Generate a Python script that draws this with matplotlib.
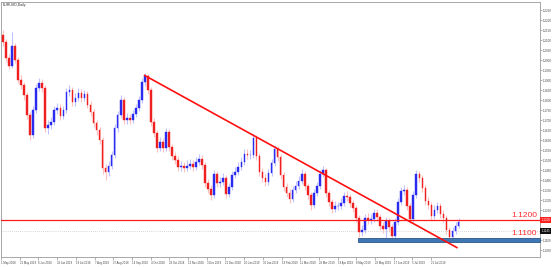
import matplotlib
matplotlib.use('Agg')
import matplotlib.pyplot as plt
import numpy as np

# daily EURUSD candles (open of each bar = previous close)
first_open = 1.2125
closes = [1.2090, 1.2010, 1.1970, 1.2070, 1.2000, 1.1900, 1.1875, 1.1825, 1.1725, 1.1625,
          1.1750, 1.1860, 1.1885, 1.1860, 1.1660, 1.1675, 1.1690, 1.1750, 1.1760, 1.1720,
          1.1750, 1.1840, 1.1850, 1.1790, 1.1810, 1.1835, 1.1810, 1.1830, 1.1775, 1.1740,
          1.1685, 1.1650, 1.1600, 1.1460, 1.1440, 1.1470, 1.1525, 1.1660, 1.1725, 1.1800,
          1.1700, 1.1710, 1.1700, 1.1730, 1.1760, 1.1800, 1.1890, 1.1920, 1.1850, 1.1690,
          1.1635, 1.1560, 1.1590, 1.1560, 1.1640, 1.1565, 1.1520, 1.1500, 1.1465, 1.1470,
          1.1460, 1.1470, 1.1480, 1.1465, 1.1490, 1.1505, 1.1475, 1.1385, 1.1355, 1.1325,
          1.1430, 1.1385, 1.1390, 1.1410, 1.1330, 1.1365, 1.1425, 1.1440, 1.1465, 1.1490,
          1.1530, 1.1525, 1.1525, 1.1610, 1.1520, 1.1440, 1.1410, 1.1390, 1.1435, 1.1485,
          1.1555, 1.1515, 1.1425, 1.1365, 1.1335, 1.1305, 1.1350, 1.1370, 1.1395, 1.1430,
          1.1370, 1.1325, 1.1275, 1.1335, 1.1370, 1.1430, 1.1450, 1.1335, 1.1290, 1.1255,
          1.1270, 1.1270, 1.1285, 1.1320, 1.1315, 1.1285, 1.1260, 1.1210, 1.1140, 1.1150,
          1.1210, 1.1200, 1.1205, 1.1235, 1.1215, 1.1170, 1.1155, 1.1195, 1.1165, 1.1120,
          1.1190, 1.1290, 1.1345, 1.1350, 1.1270, 1.1205, 1.1325, 1.1430, 1.1410, 1.1360,
          1.1295, 1.1275, 1.1220, 1.1250, 1.1270, 1.1230, 1.1210, 1.1150, 1.1115, 1.1145,
          1.1170, 1.1190]
highs = [1.2150, 1.2105, 1.2030, 1.2140, 1.2085, 1.2015, 1.1925, 1.1890, 1.1840, 1.1740,
         1.1770, 1.1880, 1.1910, 1.1905, 1.1875, 1.1700, 1.1715, 1.1770, 1.1785, 1.1780,
         1.1770, 1.1860, 1.1875, 1.1865, 1.1835, 1.1860, 1.1855, 1.1850, 1.1845, 1.1795,
         1.1755, 1.1700, 1.1665, 1.1615, 1.1480, 1.1495, 1.1545, 1.1680, 1.1745, 1.1825,
         1.1815, 1.1735, 1.1730, 1.1750, 1.1780, 1.1820, 1.1910, 1.1935, 1.1930, 1.1865,
         1.1710, 1.1650, 1.1615, 1.1610, 1.1660, 1.1655, 1.1580, 1.1540, 1.1520, 1.1495,
         1.1490, 1.1500, 1.1505, 1.1500, 1.1515, 1.1530, 1.1525, 1.1490, 1.1405, 1.1375,
         1.1450, 1.1445, 1.1415, 1.1435, 1.1425, 1.1385, 1.1445, 1.1465, 1.1490, 1.1515,
         1.1555, 1.1555, 1.1550, 1.1630, 1.1625, 1.1535, 1.1460, 1.1430, 1.1455, 1.1505,
         1.1575, 1.1570, 1.1530, 1.1440, 1.1385, 1.1355, 1.1370, 1.1395, 1.1420, 1.1455,
         1.1445, 1.1385, 1.1340, 1.1355, 1.1390, 1.1450, 1.1470, 1.1460, 1.1350, 1.1305,
         1.1295, 1.1290, 1.1310, 1.1340, 1.1345, 1.1330, 1.1300, 1.1275, 1.1225, 1.1175,
         1.1230, 1.1235, 1.1230, 1.1255, 1.1255, 1.1230, 1.1190, 1.1215, 1.1210, 1.1180,
         1.1210, 1.1310, 1.1365, 1.1375, 1.1365, 1.1285, 1.1345, 1.1450, 1.1445, 1.1425,
         1.1375, 1.1315, 1.1290, 1.1275, 1.1290, 1.1285, 1.1250, 1.1225, 1.1165, 1.1165,
         1.1190, 1.1210]
lows = [1.2070, 1.1990, 1.1955, 1.1960, 1.1985, 1.1885, 1.1855, 1.1800, 1.1705, 1.1600,
        1.1610, 1.1735, 1.1845, 1.1840, 1.1640, 1.1630, 1.1655, 1.1675, 1.1730, 1.1700,
        1.1705, 1.1735, 1.1820, 1.1770, 1.1770, 1.1795, 1.1790, 1.1795, 1.1760, 1.1720,
        1.1665, 1.1625, 1.1580, 1.1430, 1.1400, 1.1420, 1.1455, 1.1510, 1.1640, 1.1710,
        1.1680, 1.1680, 1.1680, 1.1685, 1.1715, 1.1745, 1.1785, 1.1870, 1.1830, 1.1670,
        1.1615, 1.1540, 1.1545, 1.1540, 1.1545, 1.1545, 1.1500, 1.1480, 1.1445, 1.1445,
        1.1440, 1.1445, 1.1455, 1.1445, 1.1450, 1.1475, 1.1455, 1.1365, 1.1335, 1.1300,
        1.1310, 1.1365, 1.1365, 1.1375, 1.1310, 1.1315, 1.1350, 1.1410, 1.1425, 1.1450,
        1.1475, 1.1505, 1.1505, 1.1510, 1.1500, 1.1420, 1.1390, 1.1370, 1.1375, 1.1420,
        1.1470, 1.1495, 1.1405, 1.1345, 1.1315, 1.1285, 1.1290, 1.1335, 1.1355, 1.1380,
        1.1350, 1.1305, 1.1250, 1.1260, 1.1320, 1.1355, 1.1415, 1.1315, 1.1270, 1.1235,
        1.1240, 1.1250, 1.1255, 1.1270, 1.1295, 1.1265, 1.1240, 1.1190, 1.1115, 1.1120,
        1.1135, 1.1180, 1.1180, 1.1190, 1.1195, 1.1150, 1.1135, 1.1110, 1.1145, 1.1105,
        1.1105, 1.1175, 1.1275, 1.1325, 1.1250, 1.1185, 1.1190, 1.1310, 1.1390, 1.1340,
        1.1275, 1.1255, 1.1200, 1.1205, 1.1235, 1.1210, 1.1190, 1.1130, 1.1100, 1.1105,
        1.1130, 1.1160]

date_labels = ['1 May 2018', '21 May 2018', '8 Jun 2018', '28 Jun 2018', '18 Jul 2018',
               '7 Aug 2018', '27 Aug 2018', '14 Sep 2018', '4 Oct 2018', '24 Oct 2018',
               '13 Nov 2018', '3 Dec 2018', '21 Dec 2018', '10 Jan 2019', '30 Jan 2019',
               '19 Feb 2019', '11 Mar 2019', '29 Mar 2019', '18 Apr 2019', '8 May 2019',
               '28 May 2019', '17 Jun 2019', '5 Jul 2019', '25 Jul 2019']
price_ticks = [1.1050, 1.1100, 1.1250, 1.1300, 1.1350, 1.1400, 1.1450, 1.1500,
               1.1550, 1.1600, 1.1650, 1.1700, 1.1750, 1.1800, 1.1850, 1.1900, 1.1950,
               1.2000, 1.2050, 1.2100, 1.2150, 1.2200, 1.2250]

# levels drawn on the chart
resistance = 1.1200
support_zone = (1.1090, 1.1110)
bid_price = 1.1145
trend_from = (46.7, 1.1925)
trend_to = (150.7, 1.1060)

UP = '#2a2af0'
DOWN = '#f02020'
SMALL = ['Liberation Sans', 'DejaVu Sans']

o = np.array([first_open] + closes[:-1])
c = np.array(closes)
h = np.array(highs)
l = np.array(lows)
x = np.arange(len(c))
up = c >= o

fig = plt.figure(figsize=(5.53, 2.67), dpi=100)
ax = fig.add_axes([1 / 553, 10 / 267, 539 / 553, 255 / 267])

# wicks (faint) then bodies
ax.vlines(x[up], l[up], h[up], color='#c0c3ff', lw=0.8, zorder=2)
ax.vlines(x[~up], l[~up], h[~up], color='#ffc0c0', lw=0.8, zorder=2)
colors = np.where(up, UP, DOWN)
ax.bar(x, np.abs(c - o), bottom=np.minimum(o, c), width=0.55, color=colors,
       edgecolor=colors, linewidth=0.3, zorder=3)

# horizontal levels and the falling trend line
ax.axhline(resistance, color='#ff1a1a', lw=0.9, zorder=4)
ax.axhline(bid_price, color='#b0b0b0', lw=0.5, ls=(0, (1, 2)), zorder=1)
ax.fill_between([117.7, 178], support_zone[0], support_zone[1], facecolor='#3f77b4',
                edgecolor='#2a5788', lw=0.6, zorder=4)
ax.plot([trend_from[0], trend_to[0]], [trend_from[1], trend_to[1]], color='#ff1010',
        lw=1.2, zorder=5, solid_capstyle='butt')

ax.text(0.995, resistance + 0.0004, '1.1200', transform=ax.get_yaxis_transform(),
        ha='right', va='bottom', color='#ff2a2a', fontsize=6, family=SMALL)
ax.text(0.995, support_zone[1] + 0.0004, '1.1100', transform=ax.get_yaxis_transform(),
        ha='right', va='bottom', color='#ff2a2a', fontsize=6, family=SMALL)
ax.text(0.004, 0.995, 'EURUSD,Daily', transform=ax.transAxes, ha='left', va='top',
        fontsize=2.5, color='#333333', family=SMALL)

ax.set_xlim(-0.67, 178)
ax.set_ylim(1.1015, 1.2290)

# price scale on the right, MT4 style
ax.yaxis.tick_right()
ax.set_yticks(price_ticks)
ax.set_yticklabels([f'{t:.4f}' for t in price_ticks], fontsize=2.1, color='#444444',
                   family=SMALL)
ax.tick_params(axis='y', length=1.2, width=0.4, pad=0.6, colors='#777777', labelcolor='#444444')
for val, face in [(resistance, '#ff2020'), (bid_price, '#111111')]:
    ax.text(1.0025, val, f'{val:.4f}', transform=ax.get_yaxis_transform(), ha='left',
            va='center', fontsize=2.1, color='white', family=SMALL, clip_on=False,
            bbox=dict(boxstyle='square,pad=0.3', facecolor=face, edgecolor='none'))

# date scale along the bottom
date_ticks = [-0.67 + 6.2 * k for k in range(len(date_labels))]
ax.set_xticks(date_ticks)
ax.set_xticklabels(date_labels, fontsize=2.0, color='#444444', ha='left', family=SMALL)
ax.tick_params(axis='x', length=2, width=0.4, pad=1, colors='#777777', labelcolor='#444444')

for side in ['left', 'right', 'top', 'bottom']:
    ax.spines[side].set_color('#9a9a9a')
    ax.spines[side].set_linewidth(0.6)
ax.spines['top'].set_linestyle((0, (1, 1)))

fig.savefig('out.png', dpi=100, facecolor='white')
